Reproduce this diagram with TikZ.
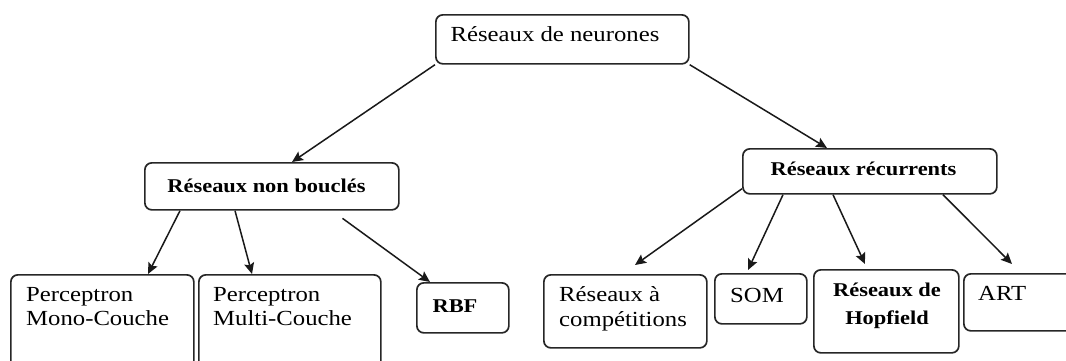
\documentclass[tikz,border=0pt]{standalone}
\usepackage{fontspec}
\setmainfont{Liberation Serif}[FakeStretch=1.15]
\usetikzlibrary{arrows.meta,calc}

\begin{document}
\begin{tikzpicture}[x=1pt,y=-1pt,
  box/.style={draw=black!85, line width=1.7pt, rounded corners=7pt, anchor=north west, inner sep=0pt},
  txt/.style={font=\fontsize{21.5}{24}\selectfont, inner sep=0pt},
  btxt/.style={font=\fontsize{19.5}{28}\selectfont\bfseries, inner sep=0pt},
  link/.style={draw=black!90, line width=1.5pt, -{Stealth[length=11pt,width=10pt,inset=2pt]}}
]
\useasboundingbox (0,0) rectangle (1066,360);
\clip (0,0) rectangle (1066,360);

% boxes
\node[box, minimum width=253pt, minimum height=49pt] (root)  at (435,14)  {};
\node[box, minimum width=254pt, minimum height=47pt] (nb)    at (144,162) {};
\node[box, minimum width=254pt, minimum height=45pt] (rec)   at (742,148) {};
\node[box, minimum width=183pt, minimum height=100pt] (mono) at (10,274)  {};
\node[box, minimum width=182pt, minimum height=100pt] (multi) at (198,274) {};
\node[box, minimum width=92pt,  minimum height=50pt] (rbf)   at (416,282) {};
\node[box, minimum width=163pt, minimum height=73pt] (comp)  at (543,274) {};
\node[box, minimum width=92pt,  minimum height=50pt] (som)   at (714,273) {};
\node[box, minimum width=145pt, minimum height=83pt] (hop)   at (813,269) {};
\node[box, minimum width=115pt, minimum height=57pt] (art)   at (963,273) {};

% labels
\node[txt, anchor=base] (t-root) at ($(root.north west)+(120,27)$) {Réseaux de neurones};
\node[btxt, anchor=base] (t-nb) at ($(nb.north west)+(122.5,30)$) {Réseaux non bouclés};
\node[btxt, anchor=base] (t-rec) at ($(rec.north west)+(121.5,27)$) {Réseaux récurrents};
\node[txt, anchor=north west, align=left] (t-mono) at ($(mono.north west)+(16,13)$) {Perceptron\\Mono-Couche};
\node[txt, anchor=north west, align=left] (t-multi) at ($(multi.north west)+(15,13)$) {Perceptron\\Multi-Couche};
\node[btxt, anchor=base] (t-rbf) at ($(rbf.north west)+(39,30)$) {RBF};
\node[txt, anchor=north west, align=left, font=\fontsize{21.5}{25}\selectfont] (t-comp) at ($(comp.north west)+(16,12)$) {Réseaux à\\compétitions};
\node[txt, anchor=base west] (t-som) at ($(som.north west)+(16,29)$) {SOM};
\node[btxt, anchor=north, align=center] (t-hop) at ($(hop.north west)+(74,14)$) {Réseaux de\\Hopfield};
\node[txt, anchor=base west] (t-art) at ($(art.north west)+(15,27)$) {ART};

% connectors
\draw[link] (root.south west) -- ($(nb.north west)+(148,0)$);
\draw[link] (root.south east) -- ($(rec.north west)+(85,0)$);
\draw[link] ($(nb.south west)+(36,0)$) -- ($(mono.north west)+(138,0)$);
\draw[link] ($(nb.south west)+(91,0)$) -- ($(multi.north west)+(54,0)$);
\draw[link, shorten <=13pt] ($(nb.south west)+(188,0)$) -- ($(rbf.north west)+(14,0)$);
\draw[link] ($(rec.south west)+(0,-6)$) -- ($(comp.north west)+(92,-9)$);
\draw[link] ($(rec.south west)+(41,0)$) -- ($(som.north west)+(34,-3)$);
\draw[link] ($(rec.south west)+(91,0)$) -- ($(hop.north west)+(52,-5)$);
\draw[link] ($(rec.south west)+(201,0)$) -- ($(art.north west)+(49,-9)$);
\end{tikzpicture}
\end{document}
